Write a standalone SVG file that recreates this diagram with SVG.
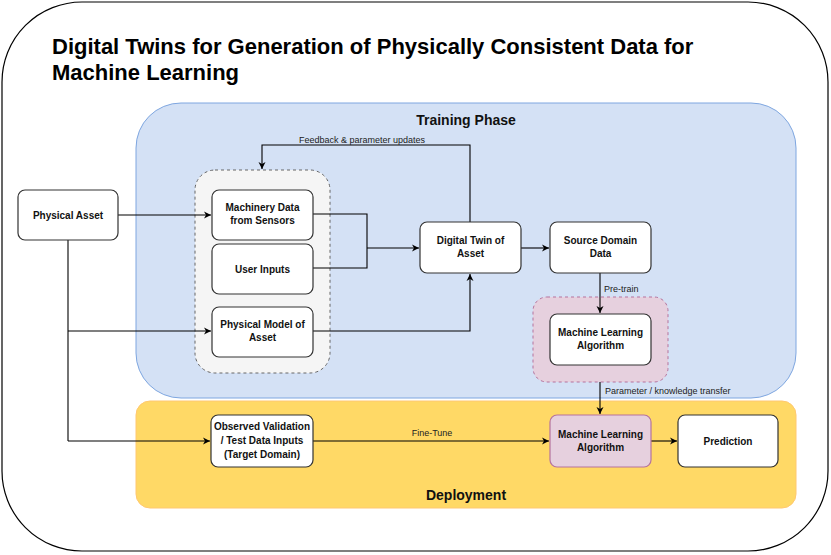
<svg xmlns="http://www.w3.org/2000/svg" width="831" height="555" viewBox="0 0 831 555">
<defs>
<marker id="arr" markerWidth="8" markerHeight="8" refX="7" refY="4" orient="auto" markerUnits="userSpaceOnUse">
<path d="M0,0.5 L7,4 L0,7.5 L2,4 Z" fill="#000"/>
</marker>
<style>
.node{fill:#fff;stroke:#333;stroke-width:1.2}
.t{font-family:"Liberation Sans",Arial,sans-serif;font-weight:bold;font-size:10px;fill:#111;text-anchor:middle}
.lbl{font-family:"Liberation Sans",Arial,sans-serif;font-size:9px;fill:#222}
.c{fill:none;stroke:#000;stroke-width:1.1}
.ca{fill:none;stroke:#000;stroke-width:1.1;marker-end:url(#arr)}
</style>
</defs>
<rect width="831" height="555" fill="#fff"/>
<g id="frame">
<rect x="2" y="2" width="826" height="549" rx="80" ry="80" fill="#fff" stroke="#000" stroke-width="1.2"/>
<text x="52" y="54" font-family="Liberation Sans,Arial,sans-serif" font-weight="bold" font-size="22" fill="#000">Digital Twins for Generation of Physically Consistent Data for</text>
<text x="52" y="80" font-family="Liberation Sans,Arial,sans-serif" font-weight="bold" font-size="22" fill="#000">Machine Learning</text>
</g>
<g id="training-phase">
<rect x="136" y="103" width="660" height="295" rx="45" ry="45" fill="#d4e1f5" stroke="#7ea6e0" stroke-width="1"/>
<text x="466" y="125" class="t" style="font-size:14px">Training Phase</text>
</g>
<g id="deployment">
<rect x="136" y="401" width="660" height="107" rx="14" ry="14" fill="#ffd966" stroke="#ffc870" stroke-width="1"/>
<text x="466" y="500" class="t" style="font-size:14px">Deployment</text>
</g>
<g id="inputs-group">
<rect x="195" y="170" width="135" height="203" rx="20" ry="20" fill="#f5f5f5" stroke="#666" stroke-width="1" stroke-dasharray="3,3"/>
</g>
<g id="pretrain-group">
<rect x="533" y="297" width="135" height="85" rx="14" ry="14" fill="#e6d0de" stroke="#b5739d" stroke-width="1" stroke-dasharray="3,3"/>
</g>
<g id="connectors">
<path class="ca" d="M118,215 L211,215"/>
<path class="c" d="M68,240 L68,441"/>
<path class="ca" d="M68,441 L210,441"/>
<path class="ca" d="M68,331 L211,331"/>
<path class="c" d="M313,214 L367,214 L367,268 L313,268"/>
<path class="ca" d="M367,248 L419,248"/>
<path class="ca" d="M313,331 L470,331 L470,274"/>
<path class="ca" d="M470,222 L470,145 L262,145 L262,169"/>
<path class="ca" d="M521,248 L549,248"/>
<path class="ca" d="M600,273 L600,313"/>
<path class="ca" d="M600,382 L600,414"/>
<path class="ca" d="M313,441 L549,441"/>
<path class="ca" d="M651,441 L677,441"/>
<text x="362" y="143" class="lbl" text-anchor="middle">Feedback &amp; parameter updates</text>
<text x="604" y="292" class="lbl">Pre-train</text>
<text x="605" y="394" class="lbl">Parameter / knowledge transfer</text>
<text x="432" y="436" class="lbl" text-anchor="middle">Fine-Tune</text>
</g>
<g id="physical-asset">
<rect class="node" x="18" y="190" width="100" height="50" rx="7"/>
<text class="t" x="68" y="218.5">Physical Asset</text>
</g>
<g id="machinery-data">
<rect class="node" x="212" y="190" width="101" height="50" rx="7"/>
<text class="t" x="262.5" y="211">Machinery Data</text>
<text class="t" x="262.5" y="224">from Sensors</text>
</g>
<g id="user-inputs">
<rect class="node" x="212" y="244" width="101" height="50" rx="7"/>
<text class="t" x="262.5" y="272.5">User Inputs</text>
</g>
<g id="physical-model">
<rect class="node" x="212" y="307" width="101" height="50" rx="7"/>
<text class="t" x="262.5" y="328">Physical Model of</text>
<text class="t" x="262.5" y="341">Asset</text>
</g>
<g id="digital-twin">
<rect class="node" x="420" y="222" width="101" height="51" rx="7"/>
<text class="t" x="470.5" y="244">Digital Twin of</text>
<text class="t" x="470.5" y="257">Asset</text>
</g>
<g id="source-domain">
<rect class="node" x="550" y="222" width="101" height="51" rx="7"/>
<text class="t" x="600.5" y="244">Source Domain</text>
<text class="t" x="600.5" y="257">Data</text>
</g>
<g id="ml-pretrain">
<rect class="node" x="550" y="314" width="101" height="51" rx="7"/>
<text class="t" x="600.5" y="336">Machine Learning</text>
<text class="t" x="600.5" y="349">Algorithm</text>
</g>
<g id="observed-validation">
<rect class="node" x="211" y="415" width="102" height="52" rx="7"/>
<text class="t" x="262" y="430">Observed Validation</text>
<text class="t" x="262" y="444">/ Test Data Inputs</text>
<text class="t" x="262" y="458">(Target Domain)</text>
</g>
<g id="ml-deploy">
<rect x="550" y="415" width="101" height="52" rx="7" fill="#e6d0de" stroke="#b5739d" stroke-width="1.2"/>
<text class="t" x="600.5" y="438">Machine Learning</text>
<text class="t" x="600.5" y="451">Algorithm</text>
</g>
<g id="prediction">
<rect class="node" x="678" y="415" width="100" height="52" rx="7"/>
<text class="t" x="728" y="444.5">Prediction</text>
</g>
</svg>
